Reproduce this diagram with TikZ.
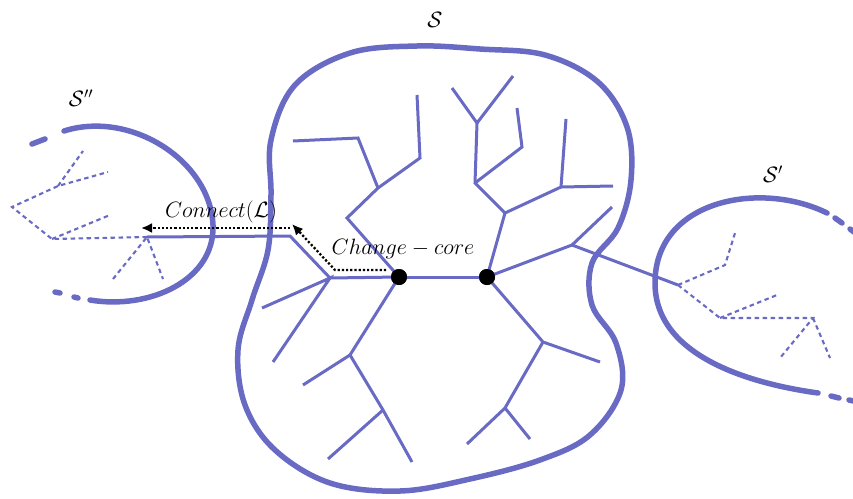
\documentclass[tikz,border=0pt]{standalone}
\usepackage{graphicx}
\usetikzlibrary{arrows.meta}
\definecolor{setblue}{RGB}{104,106,196}
\newcommand{\biglbl}[1]{\scalebox{1.07}{\fontsize{20.74}{25}\selectfont #1}}
\tikzset{
  outline/.style={setblue, line width=5.5pt, line join=round, line cap=round},
  endash/.style={setblue, line width=5.5pt, line cap=round},
  tree/.style={setblue, line width=3pt, line join=miter},
  dtree/.style={setblue, line width=2.1pt, dash pattern=on 4.5pt off 3.5pt},
  core/.style={circle, fill=black, inner sep=0pt, minimum size=16pt},
  oparrow/.style={black, line width=2.3pt, dash pattern=on 2.2pt off 2pt, -{Latex[length=11pt,width=10pt]}},
  lbl/.style={inner sep=0pt},
}
\begin{document}
\begin{tikzpicture}[x=1pt,y=-1pt]
\useasboundingbox (0,0) rectangle (853,498);
% main set S
\draw[outline] plot[smooth cycle, tension=0.6] coordinates {
 (417,46) (480,49) (545,55) (598,82) (627,127) (631,180) (618,228) (592,263)
 (592,305) (616,343) (621,390) (590,435) (540,460) (470,479) (400,491) (330,483)
 (275,450) (245,405) (238,350) (252,300) (268,250) (271,195) (271,140) (295,85)
 (350,53)};
% set S''
\draw[outline] (64,131) .. controls (130,110) and (210,160) .. (213,225)
  .. controls (215,280) and (150,310) .. (90,300);
\draw[endash] (32,144) -- (45,139);
\draw[endash] (55,292) -- (60,293);
\draw[endash] (74,297) -- (78,298);
% set S'
\draw[outline] (827,213) .. controls (760,180) and (655,200) .. (655,283)
  .. controls (655,360) and (760,385) .. (818,393);
\draw[endash] (835,218) -- (842,223);
\draw[endash] (850,229) -- (858,235);
\draw[endash] (831,396) -- (839,398);
\draw[endash] (849,400) -- (858,402);
% tree vertices
\coordinate (a1) at (330,278); \coordinate (a2) at (290,236); \coordinate (a3) at (147,237);
\coordinate (a4) at (262,308); \coordinate (a5) at (273,362);
\coordinate (b1) at (347,218); \coordinate (b2) at (378,188); \coordinate (b3) at (420,158);
\coordinate (b4) at (417,95);  \coordinate (b5) at (358,138); \coordinate (b6) at (293,141);
\coordinate (c1) at (350,355); \coordinate (c2) at (303,385); \coordinate (c3) at (383,410);
\coordinate (c4) at (328,459); \coordinate (c5) at (412,462);
\coordinate (d1) at (505,213); \coordinate (d2) at (475,183); \coordinate (d3) at (477,123);
\coordinate (d4) at (452,88);  \coordinate (d5) at (513,76);  \coordinate (d6) at (522,147);
\coordinate (d7) at (517,108); \coordinate (d8) at (561,187); \coordinate (d9) at (566,119);
\coordinate (d10) at (613,186);
\coordinate (e1) at (572,245); \coordinate (e2) at (612,207); \coordinate (e3) at (678,285);
\coordinate (f1) at (543,342); \coordinate (f2) at (600,362); \coordinate (f3) at (505,408);
\coordinate (f4) at (467,444); \coordinate (f5) at (530,439);
% S'' dashed tree
\coordinate (g1) at (52,239); \coordinate (g2) at (12,207); \coordinate (g3) at (58,186);
\coordinate (g4) at (108,172); \coordinate (g5) at (83,151); \coordinate (g6) at (110,215);
\coordinate (g7) at (113,279); \coordinate (g8) at (163,279);
% S' dashed tree
\coordinate (h1) at (725,265); \coordinate (h2) at (735,233); \coordinate (h3) at (720,318);
\coordinate (h4) at (777,295); \coordinate (h5) at (813,318); \coordinate (h6) at (780,358);
\coordinate (h7) at (830,358);
% core nodes
\node[core] (L) at (399,277) {};
\node[core] (R) at (487,277) {};
% solid tree edges
\draw[tree] (L.center) -- (R.center);
\draw[tree] (L.center) -- (a1) -- (a2) -- (a3);
\draw[tree] (a4) -- (a1) -- (a5);
\draw[tree] (L.center) -- (b1) -- (b2) -- (b3) -- (b4);
\draw[tree] (b2) -- (b5) -- (b6);
\draw[tree] (L.center) -- (c1) -- (c3) -- (c5);
\draw[tree] (c1) -- (c2);
\draw[tree] (c3) -- (c4);
\draw[tree] (R.center) -- (d1) -- (d2) -- (d3) -- (d4);
\draw[tree] (d3) -- (d5);
\draw[tree] (d2) -- (d6) -- (d7);
\draw[tree] (d1) -- (d8) -- (d9);
\draw[tree] (d8) -- (d10);
\draw[tree] (R.center) -- (e1) -- (e2);
\draw[tree] (e1) -- (e3);
\draw[tree] (R.center) -- (f1) -- (f2);
\draw[tree] (f1) -- (f3) -- (f4);
\draw[tree] (f3) -- (f5);
% redraw dots on top
\node[core] at (L) {};
\node[core] at (R) {};
% dashed trees
\draw[dtree] (a3) -- (g1) -- (g2) -- (g3) -- (g4);
\draw[dtree] (g3) -- (g5);
\draw[dtree] (g1) -- (g6);
\draw[dtree] (g7) -- (a3) -- (g8);
\draw[dtree] (e3) -- (h1) -- (h2);
\draw[dtree] (e3) -- (h3) -- (h5) -- (h6);
\draw[dtree] (h3) -- (h4);
\draw[dtree] (h5) -- (h7);
% operation arrows
\coordinate (cc0) at (386,270); \coordinate (cc1) at (335,270); \coordinate (cc2) at (292,224);
\coordinate (cn0) at (290,228); \coordinate (cn1) at (141,228);
\draw[oparrow] (cc0) -- (cc1) -- (cc2);
\draw[oparrow] (cn0) -- (cn1);
% labels
\node[lbl] (tcon) at (221,212) {\biglbl{$Connect(\mathcal{L})$}};
\node[lbl] (tchg) at (403,249) {\biglbl{$Change-core$}};
\node[lbl] (tS) at (435,20) {\biglbl{$\mathcal{S}$}};
\node[lbl] (tSpp) at (81,98) {\biglbl{$\mathcal{S}''$}};
\node[lbl] (tSp) at (773,174) {\biglbl{$\mathcal{S}'$}};
\end{tikzpicture}
\end{document}
